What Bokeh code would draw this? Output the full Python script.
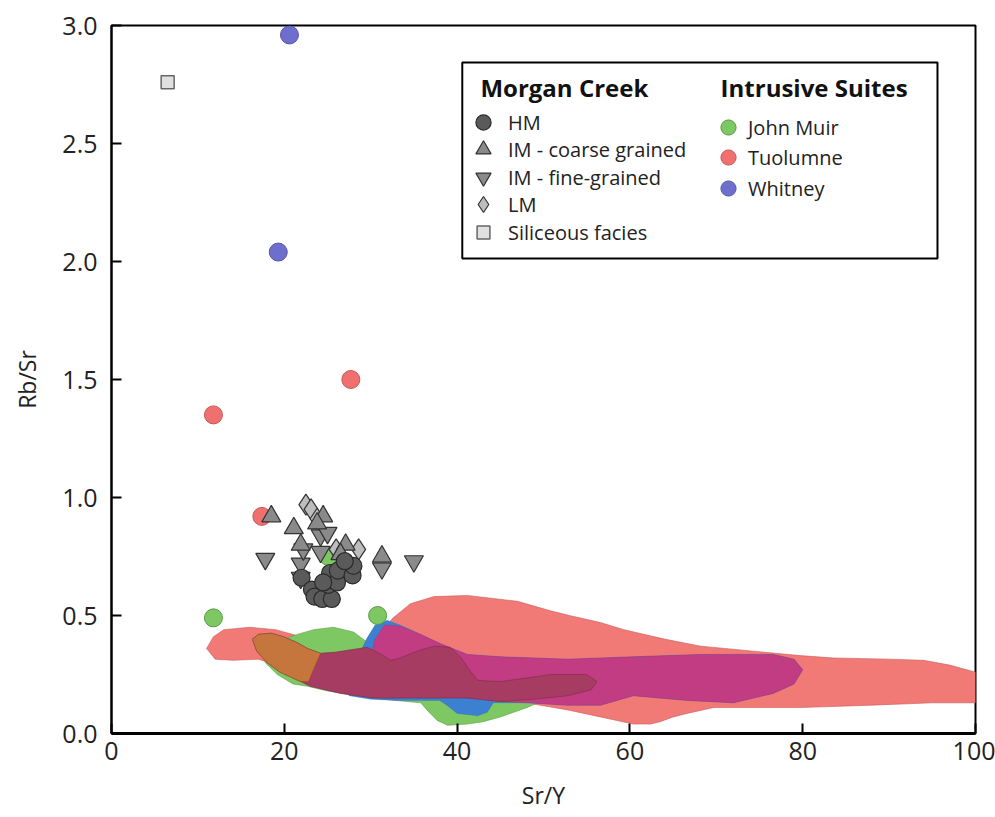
from bokeh.plotting import figure
from bokeh.models import (Legend, LegendItem, BoxAnnotation, Label,
                          FixedTicker, Range1d, CustomJSTickFormatter)
from bokeh.embed import file_html
from bokeh.resources import INLINE

FONT = "Open Sans"

# ---------------- Morgan Creek samples (Sr/Y, Rb/Sr) ----------------
hm_sr_y = [22.0, 23.2, 23.5, 24.4, 25.5, 25.1, 25.3, 26.1, 26.2, 27.9, 28.0, 27.0, 24.5]
hm_rb_sr = [0.66, 0.61, 0.58, 0.57, 0.57, 0.63, 0.68, 0.64, 0.69, 0.67, 0.71, 0.73, 0.64]

im_coarse_sr_y = [18.5, 21.1, 21.9, 24.5, 27.1, 31.3, 26.5, 23.8]
im_coarse_rb_sr = [0.92, 0.87, 0.80, 0.92, 0.80, 0.75, 0.76, 0.89]

im_fine_sr_y = [17.8, 21.9, 22.2, 24.2, 24.2, 21.9, 31.3, 35.0, 25.0, 27.5]
im_fine_rb_sr = [0.74, 0.72, 0.78, 0.84, 0.77, 0.66, 0.70, 0.73, 0.85, 0.70]

lm_sr_y = [22.5, 23.1, 23.8, 28.6, 26.0]
lm_rb_sr = [0.97, 0.95, 0.91, 0.78, 0.78]

siliceous_sr_y = [6.5]
siliceous_rb_sr = [2.76]

# ---------------- Intrusive suites ----------------
john_muir_sr_y = [11.8, 30.8, 25.1]
john_muir_rb_sr = [0.49, 0.50, 0.75]

tuolumne_sr_y = [11.8, 27.7, 17.4]
tuolumne_rb_sr = [1.35, 1.50, 0.92]

whitney_sr_y = [20.6, 19.3]
whitney_rb_sr = [2.96, 2.04]

# ---------------- Suite compositional fields (outlines) ----------------
tuolumne_field_x = [11.0, 11.8, 13.0, 16.0, 19.0, 21.0, 24.0, 28.0, 31.0, 32.6, 34.6, 37.3,
                    41.2, 47.0, 50.8, 53.0, 56.6, 59.3, 64.0, 68.2, 74.0, 79.7, 83.6, 90.0,
                    94.0, 97.0, 100.0, 100.0, 95.0, 88.0, 79.7, 69.7, 66.6, 65.0, 63.5, 62.4,
                    60.4, 58.5, 56.6, 52.8, 48.0, 45.0, 40.0, 33.0, 25.0, 20.0, 17.0, 14.0, 12.0]
tuolumne_field_y = [0.36, 0.41, 0.44, 0.45, 0.44, 0.42, 0.38, 0.36, 0.42, 0.49, 0.55, 0.58,
                    0.585, 0.56, 0.52, 0.50, 0.47, 0.44, 0.40, 0.37, 0.35, 0.33, 0.32, 0.315,
                    0.31, 0.29, 0.26, 0.13, 0.13, 0.12, 0.11, 0.11, 0.085, 0.07, 0.05, 0.04,
                    0.04, 0.055, 0.07, 0.10, 0.13, 0.14, 0.15, 0.16, 0.22, 0.28, 0.315, 0.31, 0.315]

john_muir_field_x = [17.6, 18.5, 20.0, 21.5, 23.4, 25.7, 28.0, 29.5, 31.0, 34.0, 40.0, 46.0,
                     49.0, 50.0, 48.1, 45.0, 43.0, 41.2, 38.9, 37.7, 36.5, 35.8, 30.0, 25.0,
                     22.7, 21.0, 19.2, 17.8]
john_muir_field_y = [0.33, 0.37, 0.40, 0.42, 0.44, 0.45, 0.43, 0.39, 0.36, 0.30, 0.25, 0.20,
                     0.16, 0.14, 0.11, 0.07, 0.05, 0.04, 0.035, 0.055, 0.10, 0.13, 0.15, 0.18,
                     0.20, 0.21, 0.25, 0.30]

whitney_field_x = [27.0, 28.5, 29.5, 30.5, 31.9, 33.4, 35.8, 38.1, 41.2, 45.0, 52.8, 60.4,
                   68.2, 76.6, 79.0, 80.0, 79.0, 76.6, 72.0, 66.7, 60.4, 56.6, 52.8, 48.0,
                   45.0, 44.2, 43.5, 42.4, 40.0, 38.8, 38.0, 33.0, 30.0, 27.5]
whitney_field_y = [0.20, 0.32, 0.40, 0.46, 0.48, 0.46, 0.42, 0.38, 0.335, 0.325, 0.315, 0.325,
                   0.335, 0.335, 0.315, 0.27, 0.21, 0.17, 0.13, 0.14, 0.16, 0.12, 0.12, 0.13,
                   0.13, 0.13, 0.09, 0.075, 0.085, 0.12, 0.14, 0.14, 0.145, 0.16]

# Whitney field where it lies over the Tuolumne field
whitney_tuolumne_x = [29.8, 30.5, 31.6, 33.4, 35.8, 38.1, 41.2, 45.0, 52.8, 60.4, 68.2, 76.6,
                      79.0, 80.0, 79.0, 76.6, 72.0, 66.7, 60.4, 56.6, 52.8, 48.0, 45.0, 44.2,
                      42.0, 38.0, 33.0, 30.0]
whitney_tuolumne_y = [0.30, 0.40, 0.46, 0.455, 0.42, 0.38, 0.335, 0.325, 0.315, 0.325, 0.335, 0.335,
                      0.315, 0.27, 0.21, 0.17, 0.13, 0.14, 0.16, 0.12, 0.12, 0.13, 0.135, 0.14,
                      0.15, 0.155, 0.155, 0.16]

# Core field shared by the three suites
core_field_x = [16.3, 17.0, 18.5, 19.9, 21.5, 22.7, 24.2, 26.0, 27.7, 29.6, 31.0, 32.3, 33.4,
                35.4, 37.3, 39.2, 40.5, 41.2, 42.4, 45.0, 48.0, 50.8, 55.0, 56.2, 55.5, 52.8,
                48.8, 45.0, 41.2, 36.0, 33.4, 30.3, 26.5, 23.0, 21.9, 19.5, 18.0, 16.8]
core_field_y = [0.40, 0.42, 0.425, 0.41, 0.385, 0.36, 0.34, 0.345, 0.355, 0.365, 0.34, 0.31, 0.32,
                0.35, 0.37, 0.365, 0.32, 0.28, 0.225, 0.22, 0.235, 0.25, 0.25, 0.22, 0.185, 0.16,
                0.145, 0.135, 0.15, 0.15, 0.15, 0.15, 0.17, 0.20, 0.22, 0.26, 0.30, 0.35]

# Part of the core field lying over the John Muir field
core_john_muir_x = [16.3, 17.0, 18.5, 19.9, 21.5, 22.7, 24.2, 23.6, 22.8, 21.9, 19.5, 18.0, 16.8]
core_john_muir_y = [0.40, 0.42, 0.425, 0.41, 0.385, 0.36, 0.34, 0.29, 0.22, 0.22, 0.26, 0.30, 0.35]

x_ticks = [0, 20, 40, 60, 80, 100]
y_ticks = [0.0, 0.5, 1.0, 1.5, 2.0, 2.5, 3.0]

p = figure(width=995, height=817, output_backend="svg", toolbar_location=None,
           x_range=Range1d(0, 100), y_range=Range1d(0, 3.0),
           min_border_left=111, min_border_right=20, min_border_top=25, min_border_bottom=84)
p.background_fill_color = "white"
p.border_fill_color = "white"
p.grid.visible = False
p.outline_line_color = "black"
p.outline_line_width = 2

# fields
p.patch(tuolumne_field_x, tuolumne_field_y, fill_color="#F27A76", line_color="#C85C5C",
        line_width=1, line_alpha=0.6)
p.patch(john_muir_field_x, john_muir_field_y, fill_color="#7DC862", line_color="#5E9E48",
        line_width=1, line_alpha=0.6)
p.patch(whitney_field_x, whitney_field_y, fill_color="#3C80D2", line_color="#2F63A8",
        line_width=0.8, line_alpha=0.3)
p.patch(whitney_tuolumne_x, whitney_tuolumne_y, fill_color="#C23C84", line_color="#9E2E6A",
        line_width=0.8, line_alpha=0.4)
p.patch(core_field_x, core_field_y, fill_color="#A63C62", line_color="#7E2C4A",
        line_width=1, line_alpha=0.6)
p.patch(core_john_muir_x, core_john_muir_y, fill_color="#C4763C", line_color="#8E5428",
        line_width=1, line_alpha=0.5)

# suites
r_jm = p.scatter(john_muir_sr_y, john_muir_rb_sr, marker="circle", size=18,
                 fill_color="#7DC862", line_color="#5A9A44", line_width=1)
r_tu = p.scatter(tuolumne_sr_y, tuolumne_rb_sr, marker="circle", size=18,
                 fill_color="#F07070", line_color="#C45858", line_width=1)
r_wh = p.scatter(whitney_sr_y, whitney_rb_sr, marker="circle", size=18,
                 fill_color="#6E6ECC", line_color="#5757AA", line_width=1)

# Morgan Creek
r_sil = p.scatter(siliceous_sr_y, siliceous_rb_sr, marker="square", size=13,
                  fill_color="#E0E0E0", line_color="#666666", line_width=1.5)
r_lm = p.scatter(lm_sr_y, lm_rb_sr, marker="diamond", size=21,
                 fill_color="#BDBDBD", line_color="#333333", line_width=1.2)
r_imf = p.scatter(im_fine_sr_y, im_fine_rb_sr, marker="inverted_triangle", size=19,
                  fill_color="#8A8A8A", line_color="#333333", line_width=1.2)
r_imc = p.scatter(im_coarse_sr_y, im_coarse_rb_sr, marker="triangle", size=19,
                  fill_color="#8A8A8A", line_color="#333333", line_width=1.2)
r_hm = p.scatter(hm_sr_y, hm_rb_sr, marker="circle", size=17,
                 fill_color="#5A5A5A", line_color="#2A2A2A", line_width=1.2)

# axes
p.xaxis.ticker = FixedTicker(ticks=x_ticks)
p.yaxis.ticker = FixedTicker(ticks=y_ticks)
p.yaxis.formatter = CustomJSTickFormatter(code="return tick.toFixed(1);")
for ax in (p.xaxis[0], p.yaxis[0]):
    ax.major_tick_in = 10
    ax.major_tick_out = 0
    ax.minor_tick_line_color = None
    ax.major_tick_line_width = 2
    ax.major_tick_line_color = "black"
    ax.axis_line_color = "black"
    ax.major_label_text_font = FONT
    ax.major_label_text_font_size = "25px"
    ax.major_label_text_color = "#222222"
    ax.axis_label_text_font = FONT
    ax.axis_label_text_font_size = "23px"
    ax.axis_label_text_font_style = "normal"
    ax.axis_label_text_color = "#222222"
p.xaxis.axis_line_width = 3
p.yaxis.axis_line_width = 2
p.xaxis.axis_label = "Sr/Y"
p.yaxis.axis_label = "Rb/Sr"
p.xaxis.major_label_standoff = 8
p.yaxis.major_label_standoff = 14
p.xaxis.axis_label_standoff = 16
p.yaxis.axis_label_standoff = 16

# legend frame and headings
p.add_layout(BoxAnnotation(left=40.6, right=95.6, bottom=2.013, top=2.843,
                           fill_alpha=0, line_color="black", line_alpha=1, line_width=2))
p.add_layout(Label(x=42.7, y=2.737, text="Morgan Creek", text_font=FONT,
                   text_font_size="24px", text_font_style="bold", text_baseline="middle",
                   text_color="#111111"))
p.add_layout(Label(x=70.5, y=2.737, text="Intrusive Suites", text_font=FONT,
                   text_font_size="24px", text_font_style="bold", text_baseline="middle",
                   text_color="#111111"))

FRAME_HEIGHT = 708  # plot frame height in pixels

def legend_row(label, renderer, glyph_x, row_y, glyph, standoff):
    """One legend entry; glyph_x / row_y are the marker centre in frame pixels
    (x from the left edge, y from the top edge)."""
    lg = Legend(items=[LegendItem(label=label, renderers=[renderer])],
                location=(glyph_x - glyph / 2, FRAME_HEIGHT - row_y - glyph / 2),
                orientation="vertical", glyph_width=glyph, glyph_height=glyph,
                spacing=0, padding=0, margin=0, label_standoff=standoff,
                label_text_font=FONT, label_text_font_size="20px",
                label_text_color="#222222", border_line_color=None,
                background_fill_alpha=0, label_height=20)
    p.add_layout(lg)

# Morgan Creek column
legend_row("HM", r_hm, 372, 97, 38, 6)
legend_row("IM - coarse grained", r_imc, 372, 124, 38, 6)
legend_row("IM - fine-grained", r_imf, 372, 152, 38, 6)
legend_row("LM", r_lm, 372, 179, 40, 5)
legend_row("Siliceous facies", r_sil, 372, 207, 32, 9)
# Intrusive Suites column
legend_row("John Muir", r_jm, 617, 102, 38, 1)
legend_row("Tuolumne", r_tu, 617, 132, 38, 1)
legend_row("Whitney", r_wh, 617, 163, 38, 1)

open("out.html", "w").write(file_html(p, INLINE))
